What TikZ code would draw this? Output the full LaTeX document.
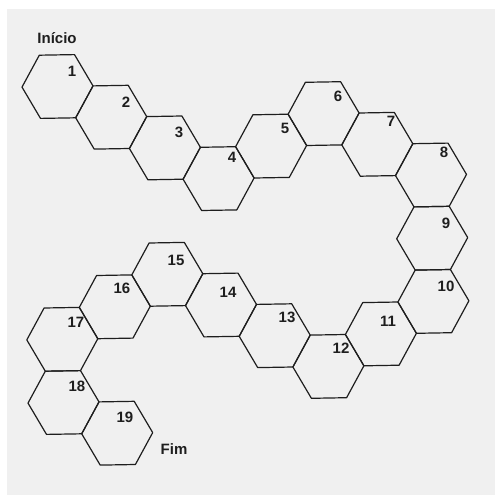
\documentclass[tikz,border=0pt]{standalone}
\usepackage{fontspec}
\setmainfont{Liberation Sans}
\definecolor{paper}{RGB}{240,240,240}
\definecolor{ink}{RGB}{30,30,30}
\tikzset{
  hexline/.style={draw=ink, line width=1.2pt, line join=round},
  numlabel/.style={font=\bfseries\fontsize{15}{18}\selectfont, text=ink, inner sep=0pt},
  wordlabel/.style={font=\bfseries\fontsize{15}{18}\selectfont, text=ink, inner sep=0pt, anchor=base}
}
\begin{document}
\begin{tikzpicture}[x=1pt,y=-1pt]
\useasboundingbox (0,0) rectangle (495,495);
\fill[white] (0,0) rectangle (495,495);
\fill[paper] (7,9) rectangle (495,495);
\begin{scope}[shift={(57.5,86.5)}, x={(53.1pt,0.9pt)}, y={(0.6pt,-31.6pt)}]
  \foreach \c/\r in {0/0,1/1,2/2,3/3,4/2,5/1,6/2,7/3,7/5,7/7,6/8,5/9,4/8,3/7,2/6,1/7,0/8,0/10,1/11}{
    \draw[hexline] (\c+0.6685,\r) -- (\c+0.3315,\r-1) -- (\c-0.3315,\r-1)
      -- (\c-0.6685,\r) -- (\c-0.3315,\r+1) -- (\c+0.3315,\r+1) -- cycle;
  }
\end{scope}
\foreach \n/\x/\y in {1/72/71,2/126/102,3/179/132,4/232/157,5/285/128,6/338/96,
  7/391/121,8/444/152,9/446/223,10/446/286,11/388/321,12/341/348,13/287/317,
  14/228/292,15/176/260,16/122/288,17/76/322,18/77/386,19/125/417}{
  \node[numlabel] (n\n) at (\x,\y) {\n};
}
\node[wordlabel] (inicio) at (57,44) {Início};
\node[wordlabel] (fim) at (174,454) {Fim};
\end{tikzpicture}
\end{document}
